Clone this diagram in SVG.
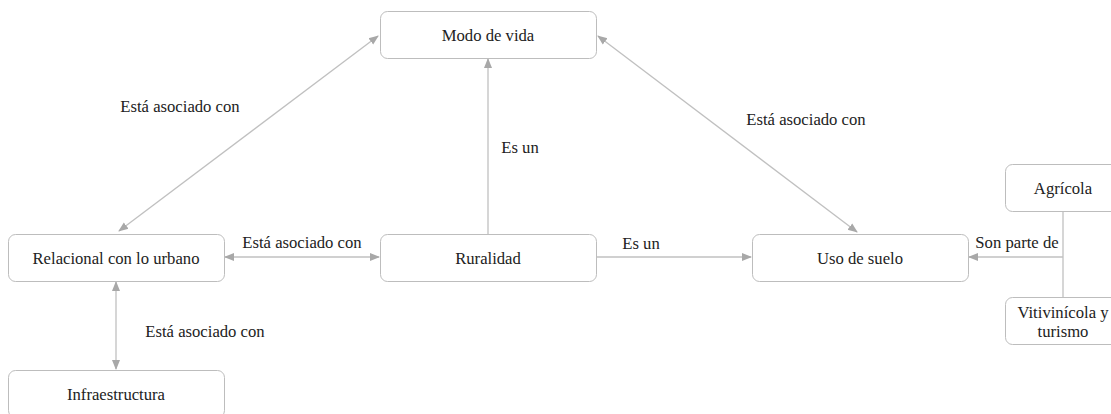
<svg xmlns="http://www.w3.org/2000/svg" width="1111" height="414" viewBox="0 0 1111 414">
<style>
.box{fill:#fff;stroke:#bdbdbd;stroke-width:1}
.t{font-family:'Liberation Serif','Times New Roman',serif;font-size:16.67px;fill:#222;text-anchor:middle}
.e{stroke:#c0c0c0;stroke-width:1.3;fill:none}
</style>
<defs>
<marker id="ah" viewBox="0 0 10 10" refX="9" refY="5" markerWidth="10" markerHeight="10" markerUnits="userSpaceOnUse" orient="auto-start-reverse">
<path d="M0,1 L10,5 L0,9 z" fill="#a8a8a8"/>
</marker>
</defs>
<rect width="1111" height="414" fill="#fff"/>
<g id="connectors">
<line class="e" x1="119" y1="231" x2="378" y2="36" marker-start="url(#ah)" marker-end="url(#ah)"/>
<line class="e" x1="488" y1="234" x2="488" y2="59" marker-end="url(#ah)"/>
<line class="e" x1="598" y1="36" x2="857" y2="232" marker-start="url(#ah)" marker-end="url(#ah)"/>
<line class="e" x1="225" y1="257" x2="379" y2="257" marker-start="url(#ah)" marker-end="url(#ah)"/>
<line class="e" x1="597" y1="257" x2="751" y2="257" marker-end="url(#ah)"/>
<line class="e" x1="116" y1="282" x2="116" y2="369" marker-start="url(#ah)" marker-end="url(#ah)"/>
<line class="e" x1="1063" y1="212" x2="1063" y2="297"/>
<line class="e" x1="1063" y1="257" x2="969" y2="257" marker-end="url(#ah)"/>
<text class="t" x="180" y="112">Está asociado con</text>
<text class="t" x="520" y="153">Es un</text>
<text class="t" x="806" y="125">Está asociado con</text>
<text class="t" x="302" y="248">Está asociado con</text>
<text class="t" x="641" y="249">Es un</text>
<text class="t" x="205" y="337">Está asociado con</text>
<text class="t" x="1017" y="248">Son parte de</text>
</g>
<g id="modo">
<rect class="box" x="380.5" y="11.5" width="216" height="47" rx="7"/>
<text class="t" x="488" y="41">Modo de vida</text>
</g>
<g id="relacional">
<rect class="box" x="8.5" y="234.5" width="216" height="47" rx="7"/>
<text class="t" x="116" y="264">Relacional con lo urbano</text>
</g>
<g id="ruralidad">
<rect class="box" x="380.5" y="234.5" width="216" height="47" rx="7"/>
<text class="t" x="488" y="264">Ruralidad</text>
</g>
<g id="uso">
<rect class="box" x="752.5" y="234.5" width="216" height="47" rx="7"/>
<text class="t" x="860" y="264">Uso de suelo</text>
</g>
<g id="agricola">
<rect class="box" x="1005.5" y="164.5" width="116" height="47" rx="7"/>
<text class="t" x="1063" y="194">Agrícola</text>
</g>
<g id="vitivinicola">
<rect class="box" x="1005.5" y="297.5" width="116" height="47" rx="7"/>
<text class="t" x="1063" y="318">Vitivinícola y</text>
<text class="t" x="1063" y="337">turismo</text>
</g>
<g id="infraestructura">
<rect class="box" x="8.5" y="370.5" width="216" height="47" rx="7"/>
<text class="t" x="116" y="400">Infraestructura</text>
</g>
</svg>
